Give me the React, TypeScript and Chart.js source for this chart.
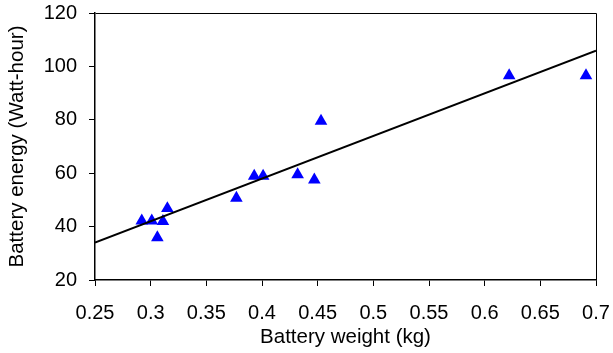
import React, { useEffect, useRef } from "react";
import { Chart, registerables } from "chart.js";

Chart.register(...registerables);

// Measured points (battery weight kg, battery energy Wh)
const weights = [0.292, 0.301, 0.311, 0.315, 0.306, 0.377, 0.393, 0.401, 0.432, 0.447, 0.453, 0.622, 0.691];
const energies = [42.2, 42.2, 42.0, 46.8, 35.9, 50.7, 58.9, 58.9, 59.5, 57.5, 79.5, 96.6, 96.6];

// Linear trend line end points
const trendX = [0.25, 0.7];
const trendY = [34.0, 105.9];

const xTicks = [0.25, 0.3, 0.35, 0.4, 0.45, 0.5, 0.55, 0.6, 0.65, 0.7];
const yTicks = [20, 40, 60, 80, 100, 120];

const FONT = "'Liberation Sans', Arial, sans-serif";

const framePlugin = {
  id: "frame",
  afterDatasetsDraw(chart: any) {
    const { ctx, chartArea } = chart;
    ctx.save();
    ctx.strokeStyle = "#000";
    ctx.lineWidth = 1;
    ctx.beginPath();
    ctx.moveTo(Math.round(chartArea.left) + 0.5, Math.round(chartArea.top) + 0.5);
    ctx.lineTo(Math.round(chartArea.right) + 0.5, Math.round(chartArea.top) + 0.5);
    ctx.lineTo(Math.round(chartArea.right) + 0.5, Math.round(chartArea.bottom) + 0.5);
    ctx.stroke();
    ctx.restore();
  },
};

export default function App() {
  const ref = useRef<HTMLCanvasElement | null>(null);

  useEffect(() => {
    if (!ref.current) return;
    const chart = new Chart(ref.current, {
      type: "scatter",
      data: {
        datasets: [
          {
            label: "Trend",
            data: trendX.map((x, i) => ({ x, y: trendY[i] })),
            showLine: true,
            borderColor: "#000",
            borderWidth: 2,
            pointRadius: 0,
            order: 0,
          },
          {
            label: "Batteries",
            data: weights.map((x, i) => ({ x, y: energies[i] })),
            pointStyle: "triangle",
            pointRadius: 7.3,
            backgroundColor: "#0000FF",
            borderColor: "#0000FF",
            borderWidth: 0,
            order: 1,
          },
        ],
      },
      options: {
        animation: false,
        responsive: false,
        devicePixelRatio: 1,
        layout: { padding: { top: 13, right: 17, left: 0, bottom: 0 } },
        plugins: { legend: { display: false }, tooltip: { enabled: false } },
        scales: {
          x: {
            type: "linear",
            min: 0.25,
            max: 0.7,
            afterBuildTicks: (scale: any) => {
              scale.ticks = xTicks.map((v) => ({ value: v }));
            },
            afterFit: (scale: any) => {
              scale.height = 73;
              scale.paddingRight = 0;
              scale.paddingLeft = 0;
            },
            ticks: {
              color: "#000",
              font: { family: FONT, size: 20 },
              padding: 15,
              maxRotation: 0,
              autoSkip: false,
              callback: (v: any) => String(Number(Number(v).toFixed(2))),
            },
            grid: { drawOnChartArea: false, drawTicks: true, tickLength: 6, color: "#000" },
            border: { color: "#000", width: 1.5 },
            title: {
              display: true,
              text: "Battery weight (kg)",
              color: "#000",
              font: { family: FONT, size: 20.5 },
              padding: { top: 0, bottom: 3 },
            },
          },
          y: {
            type: "linear",
            min: 20,
            max: 120,
            afterBuildTicks: (scale: any) => {
              scale.ticks = yTicks.map((v) => ({ value: v }));
            },
            afterFit: (scale: any) => {
              scale.width = 95;
              scale.paddingTop = 0;
              scale.paddingBottom = 0;
            },
            ticks: {
              color: "#000",
              font: { family: FONT, size: 20 },
              padding: 12,
              autoSkip: false,
              callback: (v: any) => String(v),
            },
            grid: { drawOnChartArea: false, drawTicks: true, tickLength: 6, color: "#000" },
            border: { color: "#000", width: 1.5 },
            title: {
              display: true,
              text: "Battery energy (Watt-hour)",
              color: "#000",
              font: { family: FONT, size: 20.5 },
              padding: { top: 5, bottom: 0 },
            },
          },
        },
      },
      plugins: [framePlugin],
    });
    return () => chart.destroy();
  }, []);

  return (
    <div style={{ position: "fixed", left: 0, top: 0, width: 613, height: 353, background: "#fff" }}>
      <canvas ref={ref} width={613} height={353} style={{ width: 613, height: 353, display: "block" }} />
    </div>
  );
}
